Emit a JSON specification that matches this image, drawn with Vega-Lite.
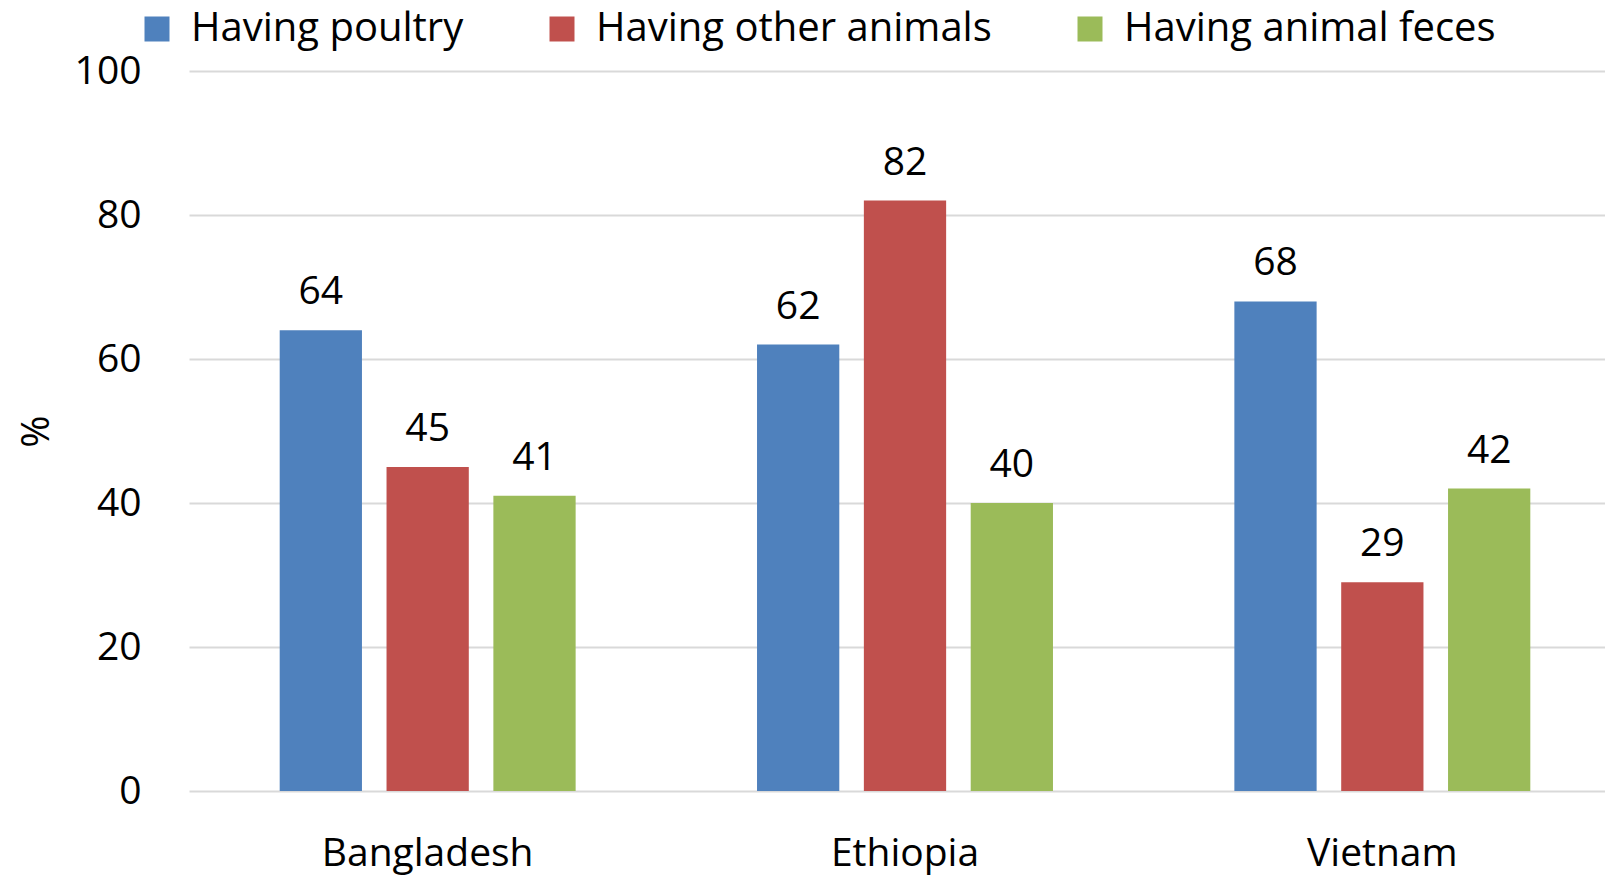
{
  "$schema": "https://vega.github.io/schema/vega-lite/v6.json",
  "width": 1416,
  "height": 720,
  "autosize": {"type": "none"},
  "padding": {"left": 189, "top": 71, "right": 0, "bottom": 86},
  "background": "white",
  "config": {
    "font": "Open Sans",
    "view": {"stroke": null}
  },
  "data": {
    "values": [
      {"country": "Bangladesh", "category": "Having poultry", "value": 64},
      {"country": "Bangladesh", "category": "Having other animals", "value": 45},
      {"country": "Bangladesh", "category": "Having animal feces", "value": 41},
      {"country": "Ethiopia", "category": "Having poultry", "value": 62},
      {"country": "Ethiopia", "category": "Having other animals", "value": 82},
      {"country": "Ethiopia", "category": "Having animal feces", "value": 40},
      {"country": "Vietnam", "category": "Having poultry", "value": 68},
      {"country": "Vietnam", "category": "Having other animals", "value": 29},
      {"country": "Vietnam", "category": "Having animal feces", "value": 42}
    ]
  },
  "encoding": {
    "x": {
      "field": "country",
      "type": "nominal",
      "sort": ["Bangladesh", "Ethiopia", "Vietnam"],
      "scale": {"paddingInner": 0.38, "paddingOuter": 0.19, "range": [0, 1432]},
      "axis": {
        "title": null,
        "labelAngle": 0,
        "labelFontSize": 39,
        "labelColor": "#000000",
        "labelPadding": 43,
        "labelLimit": 0,
        "ticks": false,
        "domain": false,
        "grid": false
      }
    },
    "xOffset": {
      "field": "category",
      "type": "nominal",
      "sort": ["Having poultry", "Having other animals", "Having animal feces"],
      "scale": {"paddingInner": 0.23, "paddingOuter": 0}
    },
    "y": {
      "field": "value",
      "type": "quantitative",
      "scale": {"domain": [0, 100], "nice": false},
      "axis": {
        "title": "%",
        "titleFontSize": 39,
        "titleFontWeight": "normal",
        "titleColor": "#000000",
        "titleAngle": -90,
        "titleBaseline": "middle",
        "titleX": -153,
        "titleY": 360,
        "values": [0, 20, 40, 60, 80, 100],
        "labelFontSize": 39,
        "labelColor": "#000000",
        "labelPadding": 48,
        "ticks": false,
        "domain": false,
        "grid": true,
        "gridColor": "#d9d9d9",
        "gridWidth": 2
      }
    }
  },
  "layer": [
    {
      "mark": {"type": "bar"},
      "encoding": {
        "color": {
          "field": "category",
          "type": "nominal",
          "sort": ["Having poultry", "Having other animals", "Having animal feces"],
          "scale": {
            "domain": ["Having poultry", "Having other animals", "Having animal feces"],
            "range": ["#4F81BD", "#C0504D", "#9BBB59"]
          },
          "legend": {
            "title": null,
            "orient": "none",
            "direction": "horizontal",
            "legendX": -52,
            "legendY": -62,
            "symbolType": "square",
            "symbolSize": 625,
            "symbolStrokeWidth": 0,
            "labelFontSize": 40,
            "labelColor": "#000000",
            "labelOffset": 14,
            "labelLimit": 0,
            "columnPadding": 78,
            "symbolOpacity": 1
          }
        }
      }
    },
    {
      "mark": {"type": "text", "baseline": "alphabetic", "dy": -26, "fontSize": 39, "color": "#000000"},
      "encoding": {
        "text": {"field": "value", "type": "quantitative"}
      }
    }
  ]
}
